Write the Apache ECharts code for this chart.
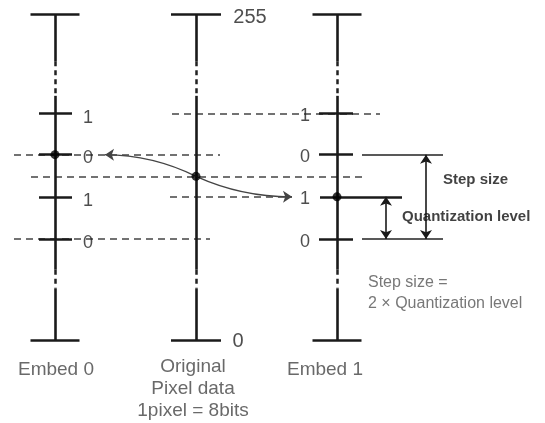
<!DOCTYPE html>
<html><head><meta charset="utf-8">
<script src="https://cdn.jsdelivr.net/npm/echarts@6/dist/echarts.min.js"></script>
<style>html,body{margin:0;padding:0;background:#fff}#c{width:545px;height:423px}</style>
</head><body><div id="c"></div>
<script>
// ---- data ----
const pixelRange = [0, 255];            // original pixel value range
const originalPixel = 128;              // original pixel value
const bitLevels = [177, 145, 112, 79];  // quantization levels shown on embed axes
const embed0Bits = ['1', '0', '1', '0'];
const embed1Bits = ['1', '0', '1', '0'];
const embed0Value = 145;                // nearest level carrying bit 0
const embed1Value = 112;                // nearest level carrying bit 1
const columnNames = ['Embed 0', 'Original\nPixel data\n1pixel = 8bits', 'Embed 1'];
const annotationTexts = ['Step size', 'Quantization level', 'Step size =\n2 \u00d7 Quantization level'];

// ---- layout (diagram coordinates) ----
const COLX = [55, 196, 337];
const FONT = "'Liberation Sans', Arial, sans-serif";
const seg = (x1, v1, x2, v2) => ({ coords: [[x1, v1], [x2, v2]] });

const solid = [], dashedV = [], dashedH = [], thin = [];
COLX.forEach((x, i) => {
  const hw = i === 1 ? 25 : 24.5;
  solid.push(seg(x - hw, pixelRange[1], x + hw, pixelRange[1]));
  solid.push(seg(x - hw, pixelRange[0], x + hw, pixelRange[0]));
  solid.push(seg(x, pixelRange[1], x, 218));
  solid.push(seg(x, 191, x, 55));
  solid.push(seg(x, 40, x, pixelRange[0]));
  dashedV.push(seg(x, 218, x, 191));
  dashedV.push(seg(x, 55, x, 40));
});
bitLevels.forEach((v, i) => {
  solid.push(seg(39, v, 72, v));
  if (v === embed1Value) solid.push(seg(320, v, 402, v));
  else solid.push(seg(319, v, 353, v));
});
// long level lines on right
thin.push(seg(362, bitLevels[1], 443, bitLevels[1]));
thin.push(seg(362, bitLevels[3], 443, bitLevels[3]));
// dashed guide lines
dashedH.push(seg(172, bitLevels[0], 380, bitLevels[0]));
dashedH.push(seg(14, embed0Value, 220, embed0Value));
dashedH.push(seg(31, originalPixel, 362, originalPixel));
dashedH.push(seg(170, embed1Value, 292, embed1Value));
dashedH.push(seg(14, bitLevels[3], 210, bitLevels[3]));

const textPts = [];
const addText = (x, v, text, opt) => textPts.push({ value: [x, v], label: Object.assign({ formatter: text }, opt) });
bitLevels.forEach((v, i) => {
  addText(83, v - 3, embed0Bits[i], { align: 'left', fontSize: 18 });
  addText(305, v - 2, embed1Bits[i], { align: 'center', fontSize: 18 });
});
addText(250, 252, String(pixelRange[1]), { fontSize: 20 });
addText(238, -1, String(pixelRange[0]), { fontSize: 20 });
addText(443, 125, annotationTexts[0], { align: 'left', fontSize: 15, fontWeight: 'bold', color: '#111' });
addText(402, 96, annotationTexts[1], { align: 'left', fontSize: 15, fontWeight: 'bold', color: '#111' });
addText(368, 37, annotationTexts[2], { align: 'left', fontSize: 16, lineHeight: 21, color: '#555' });
addText(56, -23.5, columnNames[0], { fontSize: 19, color: '#444' });
addText(193, -38.3, columnNames[1], { fontSize: 19, lineHeight: 22, color: '#444' });
addText(325, -23.5, columnNames[2], { fontSize: 19, color: '#444' });

const chart = echarts.init(document.getElementById('c'), null, { renderer: 'canvas' });
const lineBase = { type: 'lines', coordinateSystem: 'cartesian2d', silent: true, animation: false, zlevel: 0 };
chart.setOption({
  animation: false,
  backgroundColor: '#fff',
  grid: { left: 0, right: 0, top: 0, bottom: 0 },
  xAxis: { type: 'value', min: 0, max: 545, show: false },
  yAxis: { type: 'value', min: -64.92, max: 265.95, show: false },
  series: [
    Object.assign({}, lineBase, { data: dashedH, lineStyle: { color: '#444', width: 1.5, type: [7, 5], opacity: 1 } }),
    Object.assign({}, lineBase, { data: dashedV, lineStyle: { color: '#222', width: 2.5, type: [5, 4], opacity: 1 } }),
    Object.assign({}, lineBase, { data: solid, lineStyle: { color: '#1a1a1a', width: 2.6, opacity: 1 } }),
    Object.assign({}, lineBase, { data: thin, lineStyle: { color: '#222', width: 1.6, opacity: 1 } }),
    Object.assign({}, lineBase, {
      data: [{ coords: [[105, embed0Value], [COLX[1], originalPixel]] }],
      symbol: ['arrow', 'none'], symbolSize: 9,
      lineStyle: { color: '#444', width: 1.3, curveness: 0.115, opacity: 1 }
    }),
    Object.assign({}, lineBase, {
      data: [{ coords: [[292, embed1Value], [COLX[1], originalPixel]] }],
      symbol: ['arrow', 'none'], symbolSize: 9,
      lineStyle: { color: '#444', width: 1.3, curveness: 0.109, opacity: 1 }
    }),
    Object.assign({}, lineBase, {
      data: [seg(386, embed1Value, 386, bitLevels[3]), seg(426, bitLevels[1], 426, bitLevels[3])],
      symbol: ['arrow', 'arrow'], symbolSize: 9,
      lineStyle: { color: '#1a1a1a', width: 1.6, opacity: 1 }
    }),
    {
      type: 'scatter', silent: true, animation: false,
      data: [[COLX[0], embed0Value], [COLX[1], originalPixel], [COLX[2], embed1Value]],
      symbolSize: 9, itemStyle: { color: '#000' }
    },
    {
      type: 'scatter', silent: true, animation: false, symbolSize: 1,
      itemStyle: { color: 'rgba(0,0,0,0)' },
      label: { show: true, position: 'inside', fontFamily: FONT, color: '#222', align: 'center', verticalAlign: 'middle' },
      data: textPts
    }
  ]
});
</script></body></html>
